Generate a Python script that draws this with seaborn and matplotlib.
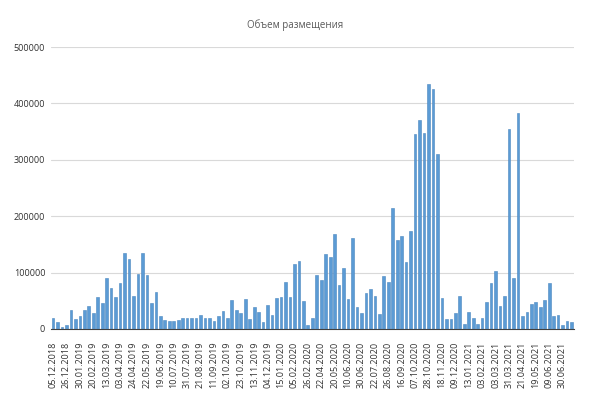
import matplotlib
matplotlib.use("Agg")
import matplotlib.pyplot as plt
import seaborn as sns
import numpy as np
import pandas as pd
from matplotlib.ticker import MultipleLocator, FixedLocator

# weekly placement volume
volumes = [
    19000, 13000, 2500, 6000, 34000, 17000, 23000, 34000, 40000, 28000,
    57000, 46000, 90000, 73000, 57000, 82000, 135000, 124000, 58000, 98000,
    134000, 96000, 45000, 66000, 22000, 16000, 14000, 14000, 15000, 19000,
    19000, 19000, 19000, 24000, 19000, 19000, 14000, 22000, 31000, 19000,
    51000, 34000, 28000, 53000, 17000, 39000, 30000, 12000, 42000, 24000,
    55000, 57000, 83000, 57000, 115000, 121000, 50000, 7000, 20000, 96000,
    86000, 133000, 127000, 168000, 77000, 108000, 53000, 161000, 38000, 28000,
    63000, 71000, 59000, 26000, 93000, 83000, 214000, 157000, 164000, 119000,
    174000, 345000, 370000, 347000, 435000, 426000, 311000, 55000, 17000, 17000,
    28000, 59000, 9000, 30000, 19000, 8000, 19000, 48000, 81000, 103000,
    41000, 59000, 354000, 91000, 383000, 22000, 30000, 44000, 47000, 39000,
    52000, 81000, 23000, 25000, 7000, 14000, 13000,
]

# every third category carries a date label
tick_labels = [
    "05.12.2018", "26.12.2018", "30.01.2019", "20.02.2019", "13.03.2019",
    "03.04.2019", "24.04.2019", "22.05.2019", "19.06.2019", "10.07.2019",
    "31.07.2019", "21.08.2019", "11.09.2019", "02.10.2019", "23.10.2019",
    "13.11.2019", "04.12.2019", "15.01.2020", "05.02.2020", "26.02.2020",
    "22.04.2020", "20.05.2020", "10.06.2020", "30.06.2020", "22.07.2020",
    "26.08.2020", "16.09.2020", "07.10.2020", "28.10.2020", "18.11.2020",
    "09.12.2020", "13.01.2021", "03.02.2021", "03.03.2021", "31.03.2021",
    "21.04.2021", "19.05.2021", "09.06.2021", "30.06.2021",
]
label_step = 3
y_ticks = [0, 100000, 200000, 300000, 400000, 500000]

sns.set_style("white")
plt.rcParams["font.family"] = ["Open Sans", "DejaVu Sans"]

df = pd.DataFrame({"week": np.arange(len(volumes)), "volume": volumes})

fig = plt.figure(figsize=(5.9, 4.03), dpi=100)
ax = fig.add_axes([0.0861, 0.184, 0.8864, 0.699])

sns.barplot(data=df, x="week", y="volume", color="#5b9bd5", saturation=1,
            width=0.6, edgecolor="#4a86bf", linewidth=0.4, ax=ax)

ax.set_xlim(-0.5, len(volumes) - 0.5)
ax.set_ylim(y_ticks[0], y_ticks[-1])
ax.set_yticks(y_ticks)
ax.set_yticklabels([str(v) for v in y_ticks])
ax.yaxis.grid(True, color="#d9d9d9", linewidth=0.8)
ax.set_axisbelow(True)

major = list(range(0, len(volumes), label_step))[:len(tick_labels)]
ax.xaxis.set_major_locator(FixedLocator(major))
ax.set_xticklabels(tick_labels, rotation=90)
ax.xaxis.set_minor_locator(MultipleLocator(1))
ax.tick_params(axis="x", which="both", length=6.3, width=0.8, color="#303030",
               direction="out", labelsize=6.5, labelcolor="#303030", pad=3)
ax.tick_params(axis="y", length=0, labelsize=6.5, labelcolor="#303030", pad=4)

for side in ["left", "right", "top"]:
    ax.spines[side].set_visible(False)
ax.spines["bottom"].set_color("#404040")
ax.spines["bottom"].set_linewidth(0.8)

ax.set_xlabel("")
ax.set_ylabel("")
fig.suptitle("Объем размещения", x=0.5, y=0.952, fontsize=7, color="#595959")

fig.savefig("out.png", dpi=100)
